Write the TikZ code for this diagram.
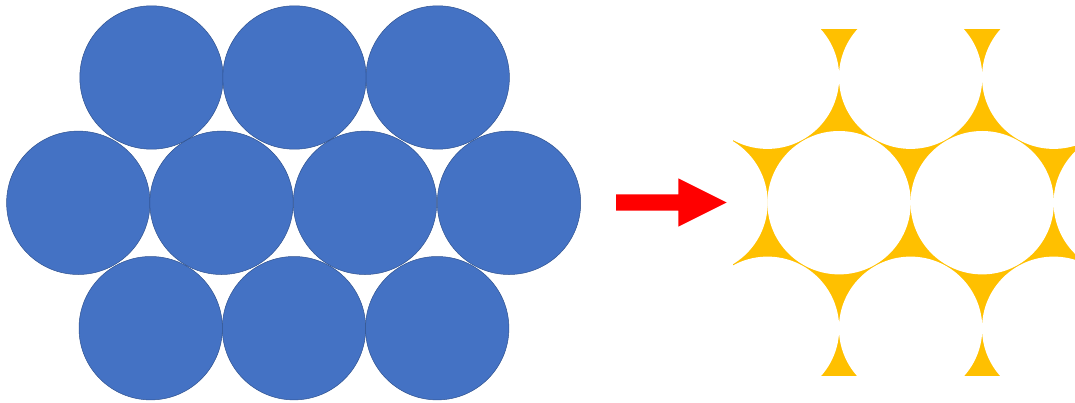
\documentclass[tikz,border=0pt]{standalone}
\definecolor{ballblue}{HTML}{4472C4}
\definecolor{balledge}{HTML}{2F528F}
\definecolor{gapyellow}{HTML}{FFC000}
\definecolor{arrowred}{HTML}{FF0000}
\begin{document}
\begin{tikzpicture}[x=1pt,y=-1pt,
  ball/.style={fill=ballblue,draw=balledge,line width=0.5pt},
  hole/.style={fill=white},
  gapfill/.style={fill=gapyellow},
  blockarrow/.style={fill=arrowred}]
\useasboundingbox (0,0) rectangle (1075,403);
% left: close-packed balls
\foreach \x in {151.5,294.5,437.7}{\draw[ball] (\x,77.5) circle[radius=71.7pt];}
\foreach \x in {78.3,221.5,365.0,509.0}{\draw[ball] (\x,202.8) circle[radius=71.7pt];}
\foreach \x in {150.7,294.0,437.2}{\draw[ball] (\x,328.2) circle[radius=71.7pt];}
% block arrow
\fill[blockarrow] (616,194.3) -- (678.3,194.3) -- (678.3,178.3) -- (726.7,202.5)
  -- (678.3,226.7) -- (678.3,210.7) -- (616,210.7) -- cycle;
% right: interstitial gaps
\begin{scope}
  \clip (733,29) rectangle (1075,376);
  \fill[gapfill] (733,29) rectangle (1075,376);
  \foreach \x in {624.4,767.5,910.6,1053.7,1196.8}{\fill[hole] (\x,77.2) circle[radius=71.7pt];}
  \foreach \x in {552.9,696.0,839.1,982.2,1125.3}{\fill[hole] (\x,202.7) circle[radius=71.7pt];}
  \foreach \x in {624.4,767.5,910.6,1053.7,1196.8}{\fill[hole] (\x,328.3) circle[radius=71.7pt];}
\end{scope}
\end{tikzpicture}
\end{document}
